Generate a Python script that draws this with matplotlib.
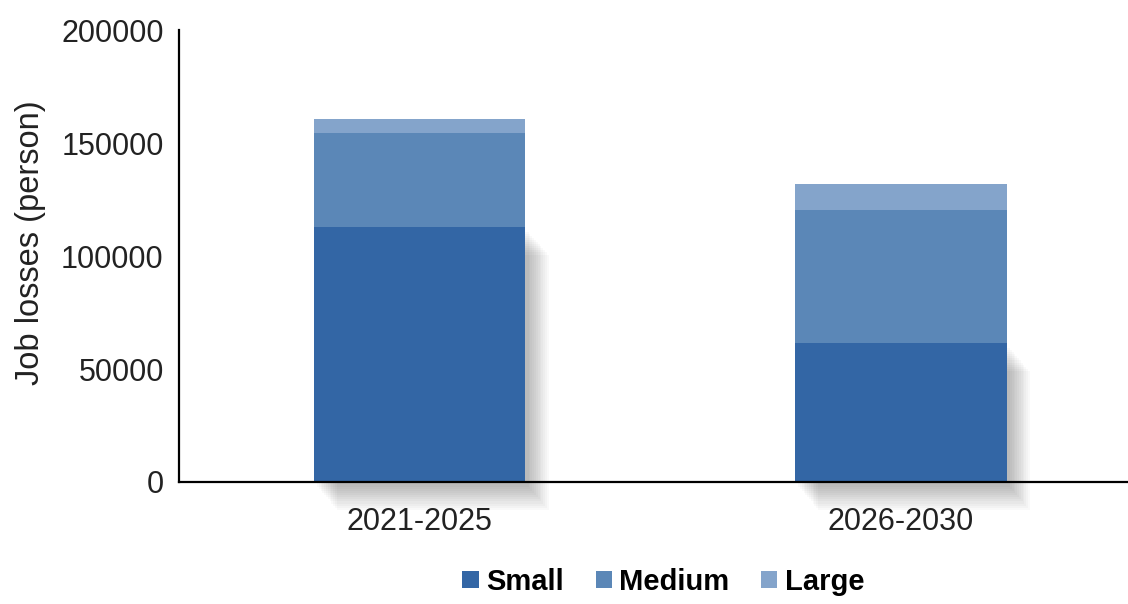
import matplotlib
matplotlib.use("Agg")
import matplotlib.pyplot as plt
import matplotlib.patheffects as pe
import numpy as np

plt.rcParams['font.family'] = ['Liberation Sans', 'DejaVu Sans']

# data
periods = ['2021-2025', '2026-2030']
small = [113000, 61500]
medium = [41300, 58900]
large = [6300, 11500]
series_names = ['Small', 'Medium', 'Large']
colors = ['#3366a5', '#5b87b7', '#84a4cb']

fig = plt.figure(figsize=(11.28, 6.04), dpi=100)
ax = fig.add_axes([0.1587, 0.202, 0.8413, 0.748])

x = np.arange(len(periods))
w = 0.44

bottom = np.zeros(len(periods))
small_bars = None
for i, vals in enumerate([small, medium, large]):
    bars = ax.bar(x, vals, w, bottom=bottom, color=colors[i],
                  label=series_names[i], zorder=3, clip_on=False)
    if i == 0:
        small_bars = bars
    bottom = bottom + np.array(vals)

ax.set_xlim(-0.5, 1.472)
ax.set_ylim(0, 200000)
ax.set_yticks([0, 50000, 100000, 150000, 200000])
ax.set_xticks(x)
ax.set_xticklabels(periods)
ax.tick_params(axis='both', length=0, labelsize=22, colors='#222222')
ax.tick_params(axis='y', pad=11)
ax.tick_params(axis='x', pad=18)
ax.set_ylabel('Job losses (person)', fontsize=23.5, color='#222222')
ax.yaxis.set_label_coords(-0.14, 0.53)

ax.spines['top'].set_visible(False)
ax.spines['right'].set_visible(False)
ax.spines['left'].set_linewidth(1.6)
ax.spines['bottom'].set_linewidth(1.6)
ax.spines['left'].set_zorder(5)
ax.spines['bottom'].set_zorder(5)

fig.legend(loc='lower center', bbox_to_anchor=(0.588, -0.03), ncol=3,
           frameon=False, handlelength=0.55, handleheight=0.55,
           handletextpad=0.25, columnspacing=1.1,
           prop={'weight': 'bold', 'size': 21})

# soft shadow under the small bars (added after the legend so the keys stay flat)
shadow = []
for k in range(1, 13):
    shadow.append(pe.SimplePatchShadow(offset=(1 + 1.3 * k, -2 - 1.5 * k),
                                       shadow_rgbFace='black', alpha=0.025))
shadow.append(pe.Normal())
for b in small_bars:
    b.set_path_effects(shadow)

fig.savefig('out.png', dpi=100)
